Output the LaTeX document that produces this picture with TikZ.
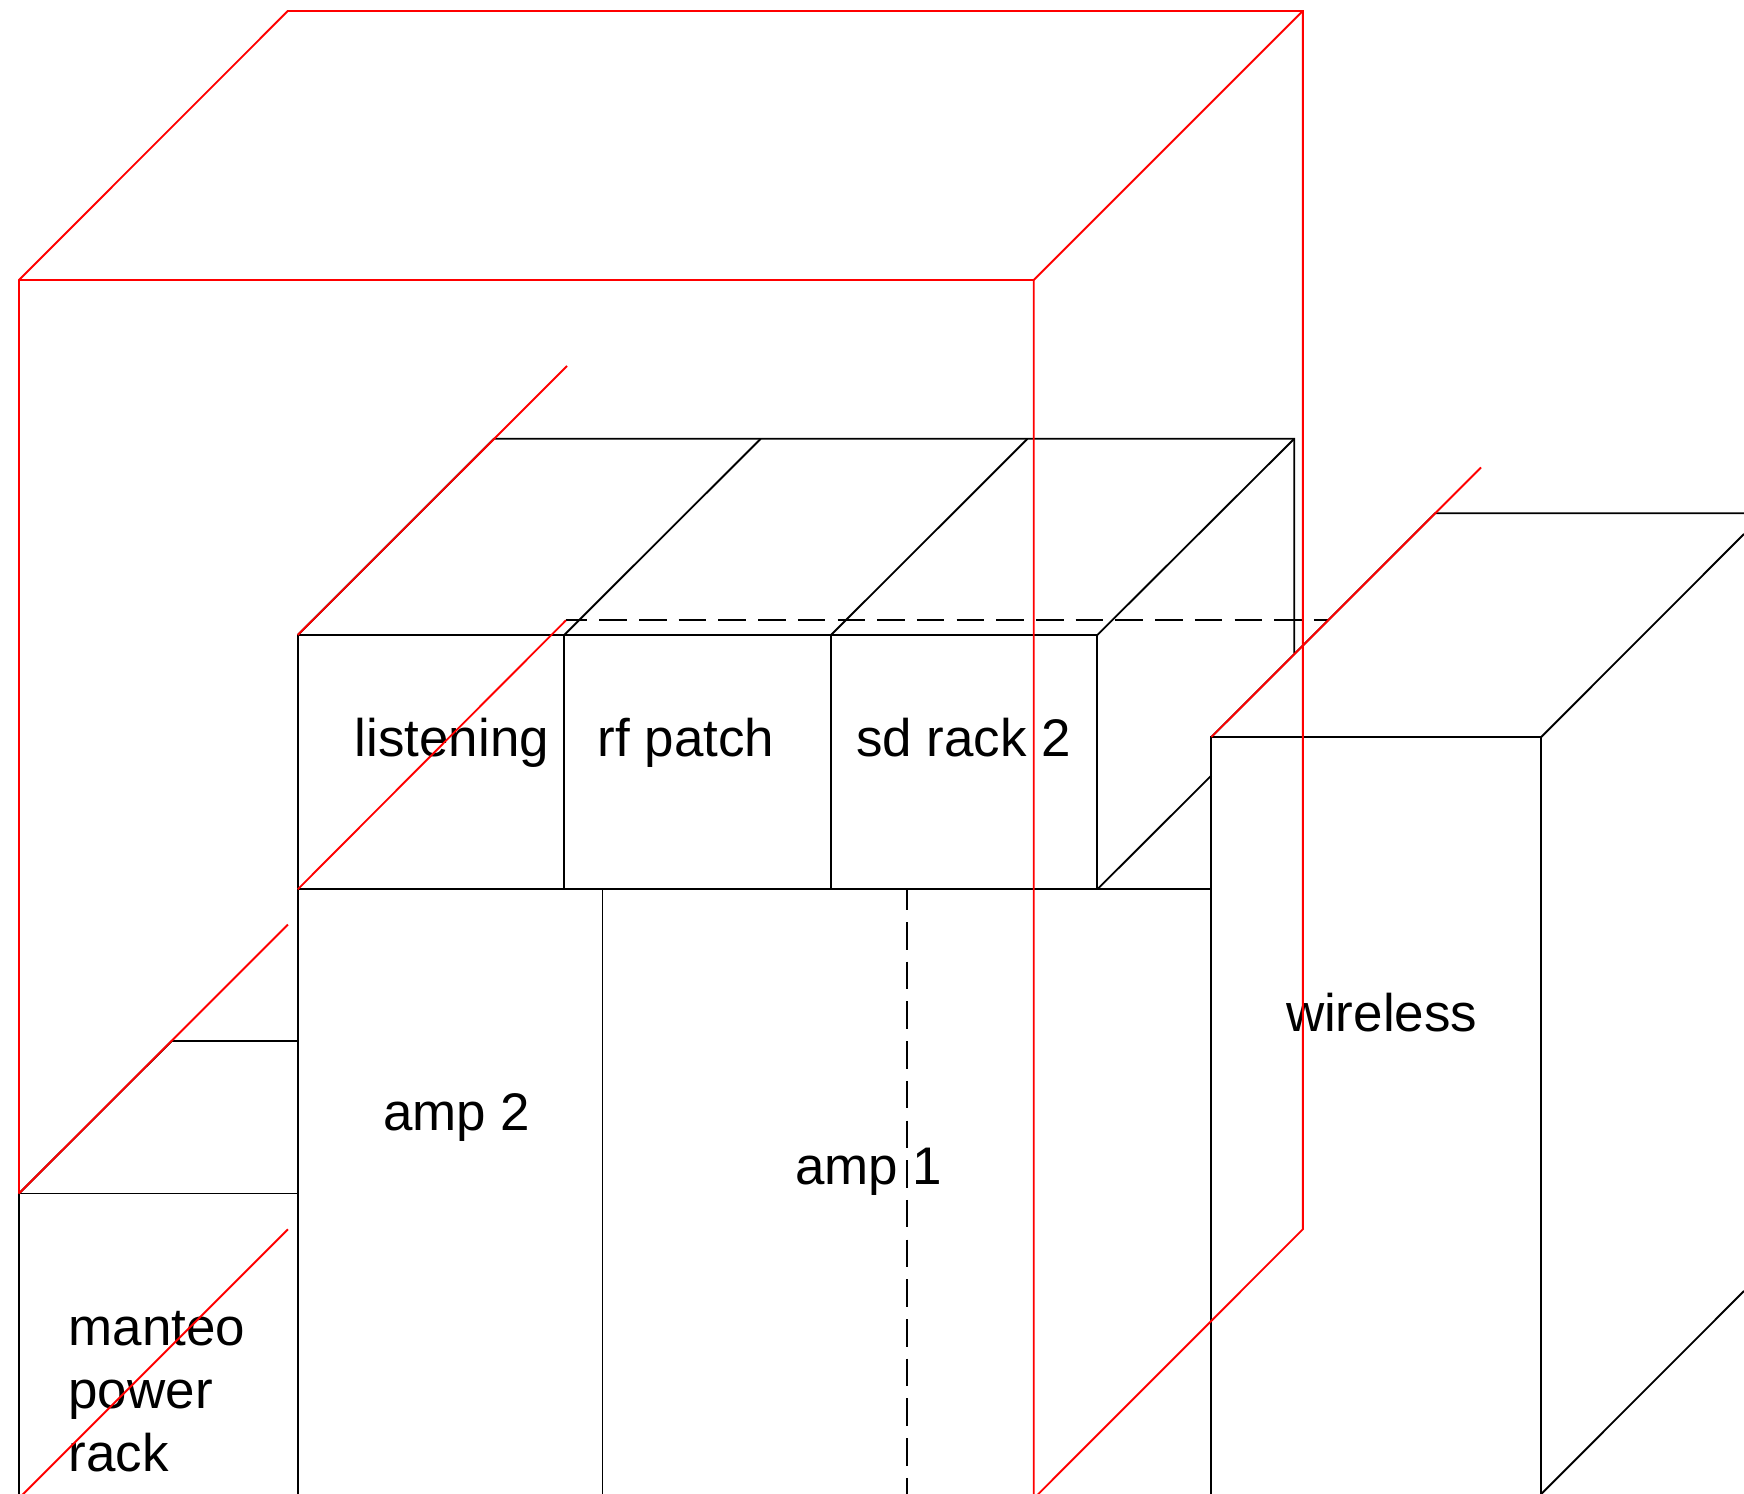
\documentclass[tikz,border=0pt]{standalone}
\usepackage{fontspec}
\setmainfont{Liberation Sans}
\begin{document}
\begin{tikzpicture}[x=0.75pt,y=-0.75pt,
  blk/.style={draw=black,line width=1.4pt,line cap=butt,line join=miter},
  redl/.style={draw=red,line width=1.4pt,line join=miter},
  dsh/.style={draw=black,line width=1.4pt,dash pattern=on 27.5*0.75pt off 12.2*0.75pt},
  lbl/.style={anchor=base west,inner sep=0pt,outer sep=0pt,font=\fontsize{39.7pt}{47.5pt}\selectfont,text=black}]
\useasboundingbox (0,0) rectangle (1744,1494);
\clip (0,0) rectangle (1744,1494);
% corners: black boxes
\coordinate (rowTL) at (297.8,635);
\coordinate (rowT1) at (564.2,635);
\coordinate (rowT2) at (831,635);
\coordinate (rowT3) at (1097.3,635);
\coordinate (rowBL) at (297.8,889.3);
\coordinate (rowB1) at (564.2,889.3);
\coordinate (rowB2) at (831,889.3);
\coordinate (rowB3) at (1097.3,889.3);
\coordinate (rowBR) at (1211.4,889.3);
\coordinate (backL) at (494,438.8);
\coordinate (back1) at (760.7,438.8);
\coordinate (back2) at (1027.5,438.8);
\coordinate (backR) at (1294.2,438.8);
\coordinate (backRb) at (1294.2,653);
\coordinate (sideE) at (1211.4,775.5);
\coordinate (ampLb) at (297.8,1494);
\coordinate (ampM) at (602.5,889.3);
\coordinate (ampMb) at (602.5,1494);
\coordinate (dashT) at (906.6,889.3);
\coordinate (dashB) at (906.6,1494);
\coordinate (wTL) at (1211.4,737);
\coordinate (wTR) at (1541.2,737);
\coordinate (wBL) at (1211.4,1494);
\coordinate (wBR) at (1541.2,1494);
\coordinate (wBk) at (1435,513.3);
\coordinate (wBkR) at (1744,513.3);
\coordinate (wDiag) at (1744,534);
\coordinate (wDiagB) at (1744,1291);
\coordinate (mTL) at (19,1193.5);
\coordinate (mTR) at (297.8,1193.5);
\coordinate (mBL) at (19,1494);
\coordinate (mBk) at (171.7,1041);
\coordinate (mBkR) at (297.8,1041);
\coordinate (dL) at (566,620.3);
\coordinate (dR) at (1329,620.3);
% red box
\coordinate (rFL) at (19,280);
\coordinate (rFR) at (1033.7,280);
\coordinate (rBL) at (287.8,11);
\coordinate (rBR) at (1302.8,11);
\coordinate (rBRb) at (1302.8,1229.3);
\coordinate (rFRb) at (1033.7,1498.6);
\coordinate (rS1) at (567,366);
\coordinate (rS2) at (1481,467.5);
\coordinate (rS3) at (288,924.5);
\coordinate (rS4) at (288,1229.3);
\coordinate (rS4b) at (19,1498.3);
% black lines
\draw[blk] (rowTL) -- (ampLb);
\draw[blk] (rowTL) -- (rowT3) -- (rowB3);
\draw[blk] (rowBL) -- (rowBR);
\draw[blk] (rowT1) -- (rowB1);
\draw[blk] (rowT2) -- (rowB2);
\draw[blk] (rowTL) -- (backL) -- (backR) -- (backRb);
\draw[blk] (rowT1) -- (back1);
\draw[blk] (rowT2) -- (back2);
\draw[blk] (rowT3) -- (backR);
\draw[blk] (rowB3) -- (sideE);
\draw[blk] (ampM) -- (ampMb);
\draw[dsh,dash phase=7*0.75pt] (dashT) -- (dashB);
\draw[dsh,dash phase=6.4*0.75pt] (dL) -- (dR);
\draw[blk] (wBL) -- (wTL) -- (wTR) -- (wBR);
\draw[blk] (wTL) -- (wBk) -- (wBkR);
\draw[blk] (wTR) -- (wDiag);
\draw[blk] (wBR) -- (wDiagB);
\draw[blk] (mBL) -- (mTL) -- (mTR);
\draw[blk] (mTL) -- (mBk) -- (mBkR);
% labels
\node[lbl] (listening) at (354.8,756.3) {listening};
\node[lbl] (rfpatch) at (597.8,756.3) {rf patch};
\node[lbl] (sdrack) at (856,756.3) {sd rack 2};
\node[lbl] (amptwo) at (383,1130.3) {amp 2};
\node[lbl] (ampone) at (795,1184.3) {amp 1};
\node[lbl] (wireless) at (1286,1031.7) {wireless};
\node[lbl] (manteo) at (68.5,1345) {manteo};
\node[lbl] (power) at (68.5,1408.3) {power};
\node[lbl] (rack) at (68.5,1471.9) {rack};
% red lines
\draw[redl] (mTL) -- (rFL) -- (rBL) -- (rBR) -- (rBRb) -- (rFRb) -- (rFR) -- (rFL);
\draw[redl] (rFR) -- (rBR);
\draw[redl] (rowTL) -- (rS1);
\draw[redl] (rowBL) -- (dL);
\draw[redl] (wTL) -- (rS2);
\draw[redl] (mTL) -- (rS3);
\draw[redl] (rS4b) -- (rS4);
\end{tikzpicture}
\end{document}
